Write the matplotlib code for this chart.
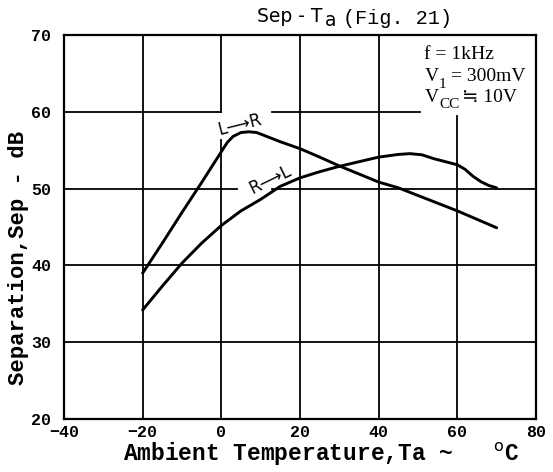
import matplotlib
matplotlib.use("Agg")
import matplotlib.pyplot as plt

ta_lr = [-20, -15, -10, -5, -2, 0, 1.5, 3, 5, 7, 9, 11, 15, 20, 25, 30, 35, 40, 45, 50, 55, 60, 65, 70]
sep_lr = [39.0, 42.9, 46.9, 50.8, 53.2, 54.8, 56.0, 56.8, 57.3, 57.4, 57.3, 56.9, 56.1, 55.2, 54.1, 52.95,
          51.9, 50.85, 50.1, 49.1, 48.1, 47.1, 46.0, 44.9]
ta_rl = [-20, -15, -10, -5, 0, 5, 10, 15, 20, 25, 30, 35, 40, 45, 48, 51, 54, 57, 60, 62, 64, 66, 68, 70]
sep_rl = [34.2, 37.3, 40.3, 42.9, 45.2, 47.1, 48.6, 50.3, 51.4, 52.2, 52.9, 53.5, 54.1, 54.45, 54.55, 54.4,
          53.9, 53.5, 53.1, 52.5, 51.6, 50.9, 50.4, 50.1]
xticks = [-40, -20, 0, 20, 40, 60, 80]
yticks = [20, 30, 40, 50, 60, 70]

SERIF = ['Liberation Serif', 'DejaVu Serif']

fig = plt.figure(figsize=(5.53, 4.72), dpi=100)
ax = fig.add_axes([64/553, 53/472, 472/553, 384/472])
ax.set_xlim(-40, 80); ax.set_ylim(20, 70)

glw = 1.3
# grid with the gaps seen in the original sheet
ax.plot([-40, 0], [60, 60], color='k', lw=glw)
ax.plot([13, 50.5], [60, 60], color='k', lw=glw)
ax.plot([-40, 4.0], [50, 50], color='k', lw=glw)
ax.plot([13, 80], [50, 50], color='k', lw=glw)
for y in [30, 40]:
    ax.plot([-40, 80], [y, y], color='k', lw=glw)
ax.plot([-20, -20], [20, 70], color='k', lw=glw)
ax.plot([0, 0], [20, 56.3], color='k', lw=glw)
ax.plot([0, 0], [60, 70], color='k', lw=glw)
ax.plot([20, 20], [20, 70], color='k', lw=glw)
ax.plot([40, 40], [20, 70], color='k', lw=glw)
ax.plot([60, 60], [20, 59.5], color='k', lw=glw)

ax.plot(ta_lr, sep_lr, color='k', lw=2.1, solid_capstyle='round', solid_joinstyle='round')
ax.plot(ta_rl, sep_rl, color='k', lw=2.1, solid_capstyle='round', solid_joinstyle='round')

ax.text(4.6, 58.3, "L⟶R", fontsize=12, family='DejaVu Sans', rotation=14, ha='center', va='center')
ax.text(12.4, 51.1, "R⟶L", fontsize=12, family='DejaVu Sans', rotation=26, ha='center', va='center')

# test conditions, upper right
x0 = 51.6
ax.annotate("f = 1kHz", (x0, 67.4), fontsize=14, family=SERIF, va='center')
ax.annotate("V", (x0, 64.6), fontsize=14, family=SERIF, va='center')
ax.annotate("1", (x0, 64.6), xytext=(10.5, -5.5), textcoords='offset points', fontsize=11, family=SERIF, va='center')
ax.annotate("= 300mV", (x0, 64.6), xytext=(19.5, 0), textcoords='offset points', fontsize=14, family=SERIF, va='center')
ax.annotate("V", (x0, 61.8), fontsize=14, family=SERIF, va='center')
ax.annotate("CC", (x0, 61.8), xytext=(10.5, -5), textcoords='offset points', fontsize=11, family=SERIF, va='center')
ax.annotate("≒ 10V", (x0, 61.8), xytext=(27.5, 0), textcoords='offset points', fontsize=14,
            family=['Liberation Serif', 'DejaVu Sans'], va='center')

for sp in ax.spines.values():
    sp.set_linewidth(1.6)
ax.set_xticks(xticks); ax.set_yticks(yticks)
ax.set_xticklabels([str(t).replace('-', '−') for t in xticks])
ax.tick_params(axis='y', length=0, pad=9)
ax.tick_params(axis='x', length=0, pad=4)
for lab in ax.get_xticklabels() + ax.get_yticklabels():
    lab.set_family('Liberation Mono'); lab.set_fontweight('bold'); lab.set_fontsize(12)

ax.set_xlabel("Ambient Temperature,Ta ~   $^\\mathrm{o}$C", family='Liberation Mono', fontweight='bold',
              fontsize=16.5)
ax.xaxis.set_label_coords(0.545, -0.058)
ax.set_ylabel("Separation,Sep - dB", family='Liberation Mono', fontweight='bold', fontsize=16)
ax.yaxis.set_label_coords(-0.074, 0.42)

fig.text(257/553, 1 - 17/472, "Sep - T", family='DejaVu Sans', fontsize=13.5, ha='left', va='center')
fig.text(325/553, 1 - 21/472, "a", family='DejaVu Sans', fontsize=13.5, ha='left', va='center')
fig.text(343/553, 1 - 19/472, "(Fig. 21)", family='Liberation Mono', fontsize=14.5, ha='left', va='center')

fig.savefig("out.png", dpi=100)
